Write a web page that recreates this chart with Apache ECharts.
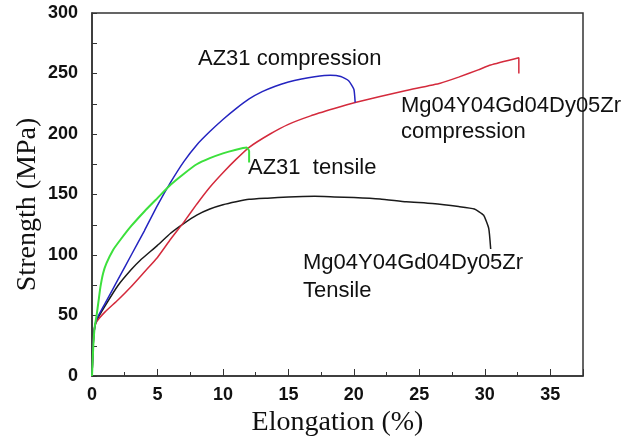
<!DOCTYPE html>
<html>
<head>
<meta charset="utf-8">
<script src="https://cdn.jsdelivr.net/npm/echarts@6/dist/echarts.min.js"></script>
<style>
  html, body { margin: 0; padding: 0; background: #fff; }
  #chart { width: 633px; height: 442px; }
</style>
</head>
<body>
<div id="chart"></div>
<script>
  // 曲线数据 [伸长率 %, 强度 MPa]
  var az31Compression = [
    [0, 0], [0.1, 28], [0.2, 40], [0.36, 47], [1, 60], [2, 80], [3, 100], [4, 120],
    [5, 141], [6, 160], [7, 177], [8, 191], [9, 202], [10, 212], [11, 221], [12, 229],
    [13, 235], [14, 239.5], [15, 243], [16, 245.5], [17, 247.3], [18.2, 248.5],
    [19, 247.5], [19.6, 244], [20, 237], [20.1, 226]
  ];
  var az31Tensile = [
    [0, 0], [0.1, 25], [0.2, 40], [0.35, 50], [0.5, 62], [0.65, 74], [0.85, 85],
    [1.1, 93], [1.6, 104], [2.2, 113], [3, 124], [4, 136], [5, 147], [6, 158],
    [7, 167], [8, 175], [9, 180], [10, 184], [11, 187], [11.8, 188.8], [12, 186],
    [12, 176.5]
  ];
  var mgCompression = [
    [0, 0], [0.1, 28], [0.2, 40], [0.36, 45], [1, 53], [2, 63], [3, 74], [4, 86],
    [5, 98], [6, 113], [7, 127], [8, 142], [9, 156], [10, 168], [11, 179], [12, 189],
    [13.6, 200], [15, 208], [16.7, 215], [18.5, 221], [20.1, 226], [22, 231],
    [24, 236], [26.6, 242], [28, 247], [29.5, 253], [30.45, 257], [32.6, 263],
    [32.6, 250]
  ];
  var mgTensile = [
    [0, 0], [0.1, 28], [0.2, 40], [0.36, 46], [1, 58], [2, 75], [3, 88], [3.67, 95.5],
    [5, 108], [6, 118], [7, 126], [8, 133], [9, 138], [10, 141.5], [11, 144],
    [12, 146], [13.4, 147], [15, 148], [17, 148.5], [18.5, 148], [20, 147.5],
    [22, 146.3], [24, 144], [26, 142.5], [28, 140], [29.2, 138], [29.9, 133],
    [30.3, 122], [30.45, 105]
  ];

  var chart = echarts.init(document.getElementById("chart"));

  var labelFont = { fontFamily: "Liberation Sans", fontSize: 22, fill: "#111" };

  var option = {
    backgroundColor: "#fff",
    animation: false,
    grid: {
      left: 92, top: 13, right: 50, bottom: 64,
      show: true, borderColor: "#333", borderWidth: 1.5
    },
    xAxis: {
      type: "value", min: 0, max: 37.5, interval: 5,
      name: "Elongation (%)", nameLocation: "middle", nameGap: 33, nameMoveOverlap: false,
      nameTextStyle: { fontFamily: "Liberation Serif", fontSize: 28, color: "#111" },
      axisLine: { lineStyle: { color: "#333", width: 1.5 } },
      axisTick: { inside: true, length: 7, lineStyle: { color: "#333" } },
      minorTick: { show: true, splitNumber: 2, length: 4, lineStyle: { color: "#333" } },
      axisLabel: { showMaxLabel: false, margin: 10, fontFamily: "Liberation Sans", fontWeight: "bold", fontSize: 18, color: "#111" },
      splitLine: { show: false }
    },
    yAxis: {
      type: "value", min: 0, max: 300, interval: 50,
      name: "Strength (MPa)", nameLocation: "middle", nameGap: 50, nameMoveOverlap: false,
      nameTextStyle: { fontFamily: "Liberation Serif", fontSize: 28, color: "#111", padding: [0, 20, 0, 0] },
      axisLine: { show: true, lineStyle: { color: "#333", width: 1.5 } },
      axisTick: { show: true, inside: true, length: 5, lineStyle: { color: "#333" } },
      minorTick: { show: true, splitNumber: 2, length: 5, lineStyle: { color: "#333" } },
      axisLabel: { margin: 14, fontFamily: "Liberation Sans", fontWeight: "bold", fontSize: 18, color: "#111" },
      splitLine: { show: false }
    },
    series: [
      { type: "line", data: mgTensile, showSymbol: false, smooth: 0.15, lineStyle: { color: "#1a1a1a", width: 1.5 } },
      { type: "line", data: mgCompression, showSymbol: false, smooth: 0.15, lineStyle: { color: "#d42a3c", width: 1.5 } },
      { type: "line", data: az31Compression, showSymbol: false, smooth: 0.15, lineStyle: { color: "#2424c0", width: 1.5 } },
      { type: "line", data: az31Tensile, showSymbol: false, smooth: 0.15, lineStyle: { color: "#3ce03c", width: 2 } }
    ],
    graphic: [
      { type: "text", x: 198, y: 58.5, style: Object.assign({ text: "AZ31 compression", verticalAlign: "middle" }, labelFont) },
      { type: "text", x: 401, y: 106, style: Object.assign({ text: "Mg04Y04Gd04Dy05Zr", verticalAlign: "middle" }, labelFont) },
      { type: "text", x: 401, y: 132, style: Object.assign({ text: "compression", verticalAlign: "middle" }, labelFont) },
      { type: "text", x: 248, y: 167.5, style: Object.assign({ text: "AZ31  tensile", verticalAlign: "middle" }, labelFont) },
      { type: "text", x: 303, y: 263, style: Object.assign({ text: "Mg04Y04Gd04Dy05Zr", verticalAlign: "middle" }, labelFont) },
      { type: "text", x: 303, y: 291, style: Object.assign({ text: "Tensile", verticalAlign: "middle" }, labelFont) }
    ]
  };

  chart.setOption(option);
</script>
</body>
</html>
